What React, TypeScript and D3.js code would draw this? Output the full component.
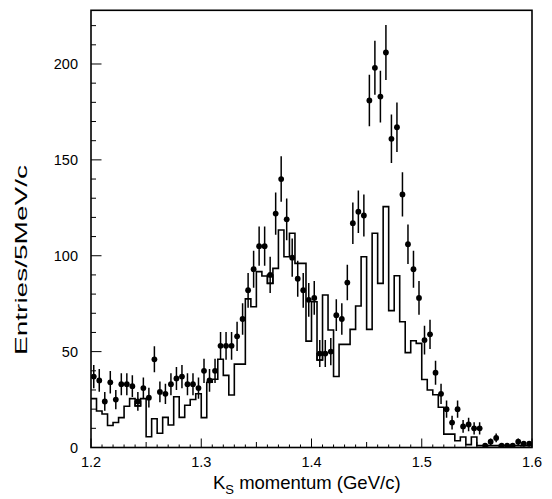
import React from "react";
import * as d3 from "d3";

// K_S momentum bins: 1.200 .. 1.600 GeV/c, 5 MeV/c wide (80 bins)
const binStart = 1.2;
const binWidth = 0.005;

// Data (points with sqrt(N) errors)
const dataCounts = [
  37, 35, 24, 34, 25, 33, 33, 32, 24, 31,
  26, 46, 29, 28, 33, 36, 37, 33, 33, 31,
  40, 35, 40, 53, 53, 53, 58, 67, 82, 93,
  105, 105, 90, 122, 140, 119, 99, 88, 82, 77,
  78, 49, 49, 50, 69, 67, 86, 117, 123, 121,
  181, 198, 183, 206, 161, 167, 132, 106, 93, 78,
  56, 59, 39, 28, 20, 13, 20, 11, 12, 10,
  10, 1, 3, 5, 1, 1, 1, 3, 2, 2,
];

// Monte Carlo histogram (step outline)
const mcCounts = [
  25.5, 19, 17.5, 11.5, 13, 15.6, 21.5, 25.5, 21.7, 25.5,
  5.6, 15, 7.4, 15.7, 11.7, 26.5, 15.7, 22, 25, 28,
  15.6, 34, 35.6, 46, 37.6, 27.4, 43.5, 43.5, 77.5, 73.4,
  91.7, 89.4, 85.6, 93.4, 113.4, 99.5, 111.7, 96, 96, 55.5,
  76, 45.6, 79.5, 61.3, 37, 53.8, 53.8, 61.6, 73.8, 99.5,
  61.6, 111.7, 85.6, 125.6, 71.4, 89.6, 65.6, 49.5, 55.7, 54.3,
  35.5, 30, 27.5, 21, 7, 7, 3.5, 5.5, 1.5, 5.5,
  1, 1, 1, 1, 1, 1, 1, 1, 1, 1,
];

// bins where the data marker sits in a small box on the MC outline
const boxBins = [8, 32, 41];

const xTickLabels = [1.2, 1.3, 1.4, 1.5, 1.6];
const yTickLabels = [0, 50, 100, 150, 200];

const W = 552;
const H = 499;
const left = 91;
const right = 532;
const top = 10.3;
const bottom = 447.5;

export default function App() {
  const x = d3.scaleLinear().domain([1.2, 1.6]).range([left, right]);
  const y = d3.scaleLinear().domain([0, 228]).range([bottom, top]);

  const edges = mcCounts.map((v, i) => [binStart + i * binWidth, v] as [number, number]);
  edges.push([binStart + mcCounts.length * binWidth, mcCounts[mcCounts.length - 1]]);
  const stepLine = d3
    .line<[number, number]>()
    .x((d) => x(d[0]))
    .y((d) => y(d[1]))
    .curve(d3.curveStepAfter);

  const font = "'Liberation Sans', Arial, Helvetica, sans-serif";

  const xMinor = d3.range(0, 41).map((k) => 1.2 + k * 0.01);
  const yMinor = d3.range(0, 23).map((k) => k * 10);

  return (
    <svg
      width={W}
      height={H}
      style={{ position: "absolute", left: 0, top: 0, background: "#fff" }}
      fontFamily={font}
    >
      <defs>
        <clipPath id="plotclip">
          <rect x={left} y={top} width={right - left} height={bottom - top} />
        </clipPath>
      </defs>
      <rect x={0} y={0} width={W} height={H} fill="#fff" />

      <g clipPath="url(#plotclip)">
        <path d={stepLine(edges) || ""} fill="none" stroke="#000" strokeWidth={1.6} />
        {boxBins.map((i) => {
          const x0 = x(binStart + i * binWidth);
          const x1 = x(binStart + (i + 1) * binWidth);
          const yTop = y(dataCounts[i]);
          const yBot = y(mcCounts[i]);
          return (
            <rect
              key={"b" + i}
              x={x0}
              y={Math.min(yTop, yBot)}
              width={x1 - x0}
              height={Math.abs(yBot - yTop)}
              fill="none"
              stroke="#000"
              strokeWidth={1.4}
            />
          );
        })}
        {dataCounts.map((v, i) => {
          const cx = x(binStart + (i + 0.5) * binWidth);
          const e = Math.sqrt(v);
          return (
            <g key={"d" + i}>
              <line x1={cx} x2={cx} y1={y(v + e)} y2={y(Math.max(0, v - e))} stroke="#000" strokeWidth={1.5} />
              <circle cx={cx} cy={y(v)} r={2.9} fill="#000" />
            </g>
          );
        })}
      </g>

      {/* frame */}
      <rect x={left} y={top} width={right - left} height={bottom - top} fill="none" stroke="#000" strokeWidth={1.6} />

      {/* x ticks */}
      {xMinor.map((t, k) => {
        const len = k % 10 === 0 ? 9 : k % 5 === 0 ? 5.5 : 3;
        return <line key={"xt" + k} x1={x(t)} x2={x(t)} y1={bottom} y2={bottom - len} stroke="#000" strokeWidth={1} />;
      })}
      {/* y ticks */}
      {yMinor.map((t, k) => {
        const len = k % 5 === 0 ? 10.5 : 5;
        return <line key={"yt" + k} x1={left} x2={left + len} y1={y(t)} y2={y(t)} stroke="#000" strokeWidth={1} />;
      })}

      {xTickLabels.map((t) => (
        <text key={"xl" + t} x={x(t)} y={467} fontSize={14.5} textAnchor="middle" fill="#000">
          {d3.format(".1f")(t)}
        </text>
      ))}
      {yTickLabels.map((t) => (
        <text key={"yl" + t} x={78} y={y(t) + 5} fontSize={14.5} textAnchor="end" fill="#000">
          {t}
        </text>
      ))}

      <text x={213} y={489} fontSize={18.5} textAnchor="start" fill="#000">
        K<tspan fontSize={13} dy={4.5}>S</tspan>
        <tspan dy={-4.5}> momentum (GeV/c)</tspan>
      </text>
      <text
        transform="translate(27,260) rotate(-90)"
        fontSize={17}
        textAnchor="middle"
        textLength={190}
        lengthAdjust="spacingAndGlyphs"
        fill="#000"
      >
        Entries/5MeV/c
      </text>
    </svg>
  );
}
